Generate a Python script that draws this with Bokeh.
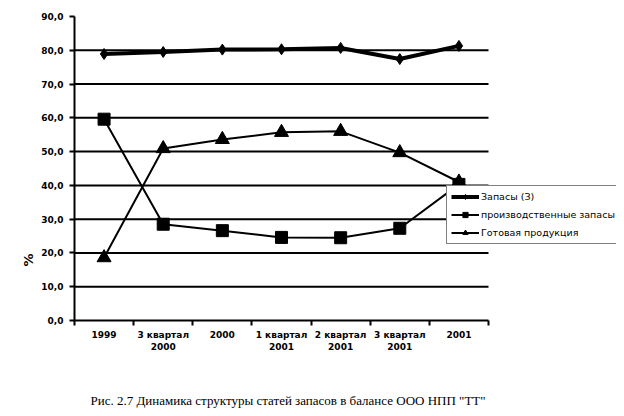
import numpy as np
from bokeh.plotting import figure
from bokeh.models import (FixedTicker, Legend, LegendItem, Title, ColumnDataSource, Range1d, LinearAxis)
from bokeh.embed import file_html
from bokeh.resources import INLINE

categories = ["1999", "3 квартал\n2000", "2000", "1 квартал\n2001", "2 квартал\n2001", "3 квартал\n2001", "2001"]
zapasy = [78.9, 79.5, 80.2, 80.3, 80.7, 77.4, 81.3]
proizv = [59.6, 28.5, 26.6, 24.6, 24.5, 27.3, 40.3]
gotovaya = [18.6, 50.9, 53.6, 55.7, 56.0, 49.7, 41.0]
series_names = ["Запасы (З)", "производственные запасы", "Готовая продукция"]
y_ticks = [0, 10, 20, 30, 40, 50, 60, 70, 80, 90]
caption = "Рис. 2.7 Динамика структуры статей запасов в балансе ООО НПП \"ТТ\""
y_title = "%"

n = len(categories)
x = np.arange(n) + 0.5
src = ColumnDataSource(dict(x=x, z=zapasy, p=proizv, g=gotovaya))

# plot area extended to the right so the legend (which overlaps it) is not clipped
x_end = n * 542 / 414

p = figure(width=620, height=410, output_backend="svg", toolbar_location=None,
           x_range=Range1d(0, x_end), y_range=Range1d(0, 90),
           min_border_left=74, min_border_right=4, min_border_top=16, min_border_bottom=90)
p.outline_line_color = None
p.background_fill_color = "white"
p.border_fill_color = "white"

# axes
xa = p.xaxis[0]
xa.bounds = (0, n)
xa.ticker = FixedTicker(ticks=list(x), minor_ticks=list(range(n + 1)))
xa.major_label_overrides = {float(v): c for v, c in zip(x, categories)}
xa.major_tick_line_color = None
xa.minor_tick_line_color = "black"
xa.minor_tick_line_width = 2
xa.minor_tick_out = 5
xa.minor_tick_in = 0
xa.axis_line_width = 2
xa.axis_line_color = "black"
xa.major_label_text_font = "DejaVu Sans"
xa.major_label_text_font_style = "bold"
xa.major_label_text_font_size = "9px"
xa.major_label_text_color = "black"
xa.major_label_standoff = 3

# invisible spacer axis to push the caption down
spacer = LinearAxis(ticker=FixedTicker(ticks=[], minor_ticks=[]), axis_line_color=None,
                    major_tick_line_color=None, minor_tick_line_color=None,
                    major_tick_out=0, major_tick_in=0, minor_tick_out=0, minor_tick_in=0,
                    major_label_standoff=0, major_label_text_font_size="0px",
                    axis_label="\u00a0", axis_label_standoff=16,
                    axis_label_text_font_size="13px", axis_label_text_color="white")
p.add_layout(spacer, "below")
p.add_layout(Title(text=caption, align="left", offset=16, standoff=4, vertical_align="bottom",
                   text_font="Liberation Serif", text_font_style="normal", text_font_size="13px",
                   text_color="black"), "below")

ya = p.yaxis[0]
ya.ticker = FixedTicker(ticks=y_ticks, minor_ticks=[])
ya.major_label_overrides = {t: f"{t:.1f}".replace(".", ",") for t in y_ticks}
ya.major_tick_line_color = "black"
ya.major_tick_line_width = 2
ya.major_tick_out = 5
ya.major_tick_in = 0
ya.minor_tick_line_color = None
ya.axis_line_width = 2
ya.axis_line_color = "black"
ya.major_label_text_font = "DejaVu Sans"
ya.major_label_text_font_style = "bold"
ya.major_label_text_font_size = "9px"
ya.major_label_text_color = "black"
ya.major_label_standoff = 6

p.xgrid.grid_line_color = None
p.ygrid.grid_line_color = None
grid_vals = y_ticks[1:-1]
p.segment(x0=[0] * len(grid_vals), x1=[n] * len(grid_vals), y0=grid_vals, y1=grid_vals,
          line_color="black", line_width=2)

# series
l1 = p.line("x", "z", source=src, line_color="black", line_width=4)
m1 = p.scatter("x", "z", source=src, marker="diamond", size=11, fill_color="black", line_color="black")
l2 = p.line("x", "p", source=src, line_color="black", line_width=2)
l3 = p.line("x", "g", source=src, line_color="black", line_width=2)
m3 = p.scatter("x", "g", source=src, marker="triangle", size=14, fill_color="black", line_color="black")
m2 = p.scatter("x", "p", source=src, marker="square", size=12, fill_color="black", line_color="black")

legend = Legend(items=[
    LegendItem(label=series_names[0], renderers=[l1, m1]),
    LegendItem(label=series_names[1], renderers=[l2, m2]),
    LegendItem(label=series_names[2], renderers=[l3, m3]),
], location=(372, 76))
legend.border_line_color = "black"
legend.border_line_width = 1
legend.background_fill_color = "white"
legend.background_fill_alpha = 1
legend.label_text_font = "DejaVu Sans"
legend.label_text_font_size = "9.5px"
legend.label_text_color = "black"
legend.glyph_width = 28
legend.glyph_height = 13
legend.spacing = 5
legend.padding = 4
legend.margin = 0
legend.label_standoff = 2
legend.label_height = 13
p.add_layout(legend, "center")

p.add_layout(Title(text=y_title, align="left", offset=54, standoff=6,
                   text_font="DejaVu Sans", text_font_style="bold", text_font_size="13px",
                   text_color="black"), "left")

open("out.html", "w").write(file_html(p, INLINE))
